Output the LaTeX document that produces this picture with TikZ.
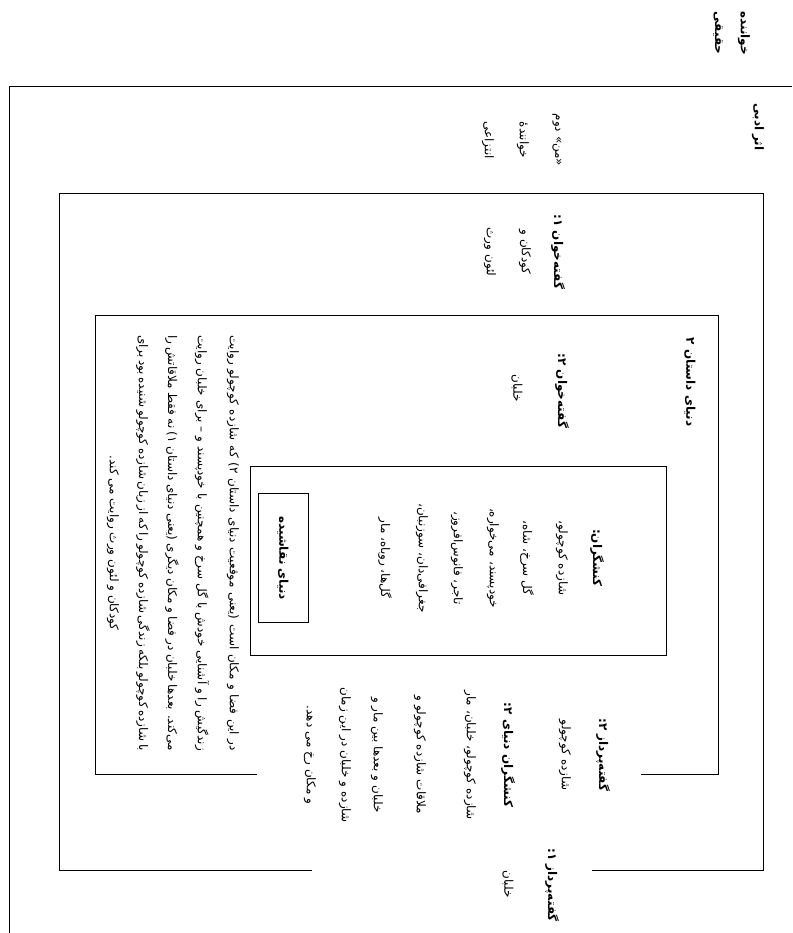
\documentclass[tikz,border=0pt]{standalone}
\usepackage{fontspec}
\newfontfamily\fa[Script=Arabic]{DejaVu Sans}
\TeXXeTstate=1
\newcommand\rl[1]{\beginR #1\endR}
\newcommand\jl[1]{\makebox[416pt][s]{\beginR #1\endR}}

\begin{document}
\begin{tikzpicture}[x=1pt, y=-1pt,
	txt/.style = {rotate=-90, inner sep=0pt, font=\fa\fontsize{12}{14}\selectfont},
	hd/.style = {txt, font=\fa\bfseries\fontsize{12}{14}\selectfont},
	frame/.style = {line width=0.9pt}]
					\useasboundingbox (0,0) rectangle (792,933);
					\draw[frame] (9,933) -- (9,86) -- (792,86);
					\draw[frame] (312,870) -- (59,870) -- (59,193) -- (763,193) -- (763,870) -- (592,870);
					\draw[frame] (257,774) -- (95,774) -- (95,315) -- (718,315) -- (718,774) -- (641,774);
					\draw[frame] (250,466) rectangle (666,655);

					\node[hd] (real1) at (744,33) {\rl{خواننده}};
					\node[hd] (real2) at (718,33) {\rl{حقیقی}};
					\node[hd] (work) at (758,127) {\rl{اثر ادبی}};
					\node[txt] (abs1) at (557,140) {\rl{«من» دوم}};
					\node[txt] (abs2) at (523,140) {\rl{خوانندهٔ}};
					\node[txt] (abs3) at (488,140) {\rl{انتزاعی}};
					\node[hd] (nee1) at (558,252) {\rl{گفته‌خوان ۱:}};
					\node[txt] (nee1a) at (525,252) {\rl{کودکان و}};
					\node[txt] (nee1b) at (490,252) {\rl{لئون ورث}};
					\node[hd] (world2) at (690,382) {\rl{دنیای داستان ۲}};
					\node[hd] (nee2) at (562,391) {\rl{گفته‌خوان ۲:}};
					\node[txt] (nee2a) at (517,388) {\rl{خلبان}};

					\node[hd] (act) at (597,558) {\rl{کنشگران:}};
					\node[txt] (act1) at (562,558) {\rl{شازده کوچولو،}};
					\node[txt] (act2) at (527,558) {\rl{گل سرخ، شاه،}};
					\node[txt] (act3) at (493,558) {\rl{خودپسند، می‌خواره،}};
					\node[txt] (act4) at (457,558) {\rl{تاجر، فانوس‌افروز،}};
					\node[txt] (act5) at (422,558) {\rl{جغرافی‌دان، سوزنبان،}};
					\node[txt] (act6) at (385,558) {\rl{گل‌ها، روباه، مار}};
					\node[hd, draw, line width=0.9pt, minimum width=129pt, minimum height=50pt] (paint) at (283,558) {\rl{دنیای نقاشیده}};

					\node[txt] (p1) at (233,543) {\jl{در این فضا و مکان است (یعنی موقعیت دنیای داستان ۲) که شازده کوچولو روایت}};
					\node[txt] (p2) at (202,543) {\jl{زندگیش را و آشنایی خودش با گل سرخ و همچنین با خودپسند و – برای خلبان روایت}};
					\node[txt] (p3) at (172,543) {\jl{می‌کند. بعدها خلبان در فضا و مکان دیگری (یعنی دنیای داستان ۱) نه فقط ملاقاتش را}};
					\node[txt] (p4) at (143,543) {\jl{با شازده کوچولو بلکه زندگی شازده کوچولو را که از زبان شازده کوچولو شنیده بود برای}};
					\node[txt] (p5) at (113,543) {\rl{کودکان و لئون ورث روایت می کند.}};

					\node[hd] (tor2) at (603,755) {\rl{گفته‌پرداز ۲:}};
					\node[txt] (tor2a) at (565,755) {\rl{شازده کوچولو}};
					\node[hd] (act2w) at (508,755) {\rl{کنشگران دنیای ۲:}};
					\node[txt] (w1) at (470,755) {\rl{شازده کوچولو، خلبان، مار}};
					\node[txt] (w2) at (420,755) {\rl{ملاقات شازده کوچولو و}};
					\node[txt] (w3) at (377,755) {\rl{خلبان و بعدها بین مار و}};
					\node[txt] (w4) at (345,755) {\rl{شازده و خلبان در این زمان}};
					\node[txt] (w5) at (310,755) {\rl{و مکان رخ می دهد.}};
					\node[hd] (tor1) at (552,885) {\rl{گفته‌پرداز ۱:}};
					\node[txt] (tor1a) at (508,884) {\rl{خلبان}};
				\end{tikzpicture}
\end{document}
